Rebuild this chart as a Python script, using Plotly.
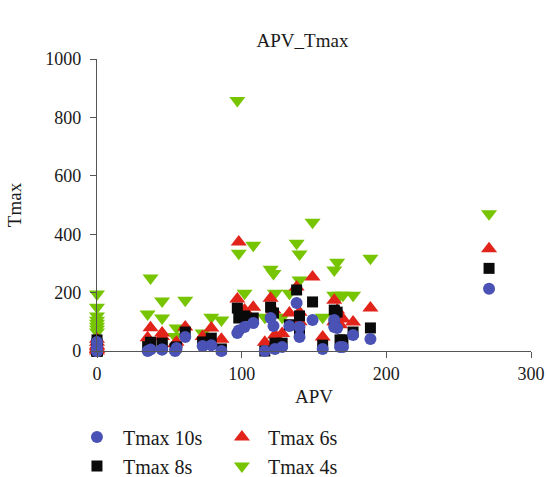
import plotly.graph_objects as go

apv = [0, 0, 0, 0, 0, 0, 0, 0,
       37, 45, 35, 45, 55, 54, 61, 73, 79, 86,
       97, 98, 102, 108, 116, 120, 122, 123, 128, 133,
       138, 140, 140, 149, 156, 164, 166, 164, 170, 168, 177, 189, 271]
tmax_4s = [195, 150, 120, 105, 95, 85, 75, 65,
           250, 171, 127, 113, 79, 50, 174, 62, 116, 106,
           858, 335, 198, 362, 116, 280, 265, 198, 116, 198,
           369, 332, 243, 441, 116, 277, 304, 191, 191, 191, 191, 318, 470]
tmax_6s = [40, 30, 20, 15, 10, 5, 5, 0,
           80, 62, 45, 50, 30, 25, 82, 50, 79, 40,
           178, 373, 140, 150, 30, 181, 140, 55, 60, 130,
           219, 133, 100, 253, 48, 174, 140, 100, 110, 90, 99, 147, 350]
tmax_8s = [38, 25, 10, 5, 0, 0, 0, 0,
           30, 27, 15, 20, 14, 10, 65, 31, 44, 7,
           147, 113, 120, 113, 0, 150, 130, 27, 27, 90,
           209, 120, 60, 168, 20, 140, 133, 99, 38, 38, 65, 79, 283]
tmax_10s = [31, 15, 5, 3, 0, 0, 0, 0,
            5, 5, 0, 5, 10, 0, 48, 17, 20, 0,
            62, 70, 82, 96, 0, 113, 86, 7, 14, 86,
            164, 82, 48, 106, 7, 106, 79, 82, 14, 14, 55, 41, 213]

x_ticks = [0, 100, 200, 300]
y_ticks = [0, 200, 400, 600, 800, 1000]

FONT = "Liberation Serif, Times New Roman, serif"
TXT = "#1a1a1a"
fig = go.Figure()

series = [
    ("Tmax 4s", tmax_4s, "triangle-down", "#77c400", 14, "legend2", 2),
    ("Tmax 6s", tmax_6s, "triangle-up", "#e2231a", 14, "legend2", 1),
    ("Tmax 8s", tmax_8s, "square", "#0a0a0a", 11, "legend", 2),
    ("Tmax 10s", tmax_10s, "circle", "#4a52b5", 12, "legend", 1),
]
for name, vals, sym, col, size, leg, rank in series:
    fig.add_trace(go.Scatter(
        x=apv, y=vals, mode="markers", name=name, legend=leg, legendrank=rank,
        marker=dict(symbol=sym, color=col, size=size, line=dict(width=0)),
        cliponaxis=False,
    ))

axis_common = dict(
    showgrid=False, zeroline=False, showline=True, linecolor="#555555", linewidth=1.3,
    ticks="outside", ticklen=6, tickcolor="#555555", tickwidth=1.3,
    tickfont=dict(family=FONT, size=18, color=TXT),
)
legend_common = dict(xanchor="left", y=-0.228, yanchor="top", orientation="v", itemwidth=42,
                     font=dict(family=FONT, size=20, color=TXT), bgcolor="rgba(0,0,0,0)")
fig.update_layout(
    width=547, height=477,
    margin=dict(l=97, r=16, t=59, b=126, autoexpand=False),
    paper_bgcolor="white", plot_bgcolor="white",
    title=dict(text="APV_Tmax", x=0.553, xanchor="center", y=0.916, yanchor="middle",
               font=dict(family=FONT, size=19, color=TXT)),
    xaxis=dict(range=[0, 300], tickvals=x_ticks, title=dict(text="APV", standoff=6,
               font=dict(family=FONT, size=19, color=TXT)), **axis_common),
    yaxis=dict(range=[0, 1000], tickvals=y_ticks, ticklabelstandoff=5,
               title=dict(text="Tmax", standoff=18, font=dict(family=FONT, size=19, color=TXT)),
               **axis_common),
    legend=dict(x=-0.060, **legend_common),
    legend2=dict(x=0.274, **legend_common),
)
fig.write_html(
    "out.html",
    config={"displayModeBar": False},
    post_script="document.body.style.margin='0';document.body.style.overflow='hidden';"
                "document.documentElement.style.overflow='hidden';",
)
